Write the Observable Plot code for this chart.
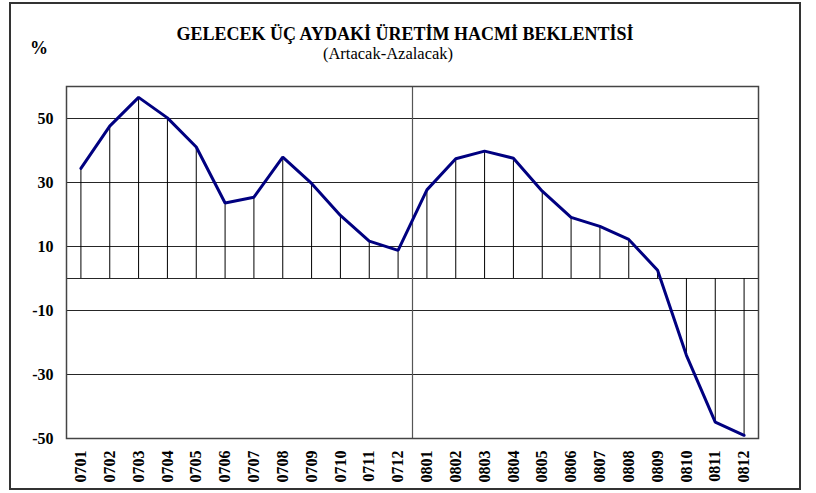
<!DOCTYPE html>
<html>
<head>
<meta charset="utf-8">
<script src="https://cdn.jsdelivr.net/npm/d3@7"></script>
<script src="https://cdn.jsdelivr.net/npm/@observablehq/plot@0.6"></script>
<style>
  html, body { margin: 0; padding: 0; background: #fff; }
  #wrap { position: relative; width: 816px; height: 493px; overflow: hidden; font-family: 'Liberation Serif', 'DejaVu Serif', serif; }
  #wrap svg { position: absolute; left: 0; top: 0; }
  .t { position: absolute; white-space: nowrap; line-height: 1; color: #000; font-family: 'Liberation Serif', 'DejaVu Serif', serif; }
  #border { position: absolute; left: 9px; top: 2px; width: 792px; height: 488px; box-sizing: border-box; border: 2px solid #333; }
</style>
</head>
<body>
<div id="wrap">
  <div id="border"></div>
  <div class="t" id="title" style="left:405px; top:25px; transform:translateX(-50%); font-size:18px; font-weight:bold;">GELECEK ÜÇ AYDAKİ ÜRETİM HACMİ BEKLENTİSİ</div>
  <div class="t" id="subtitle" style="left:388px; top:46px; transform:translateX(-50%); font-size:16.5px;">(Artacak-Azalacak)</div>
  <div class="t" id="pct" style="left:30px; top:39px; font-size:18px; font-weight:bold;">%</div>
</div>
<script>
const months = ["0701","0702","0703","0704","0705","0706","0707","0708","0709","0710","0711","0712",
                "0801","0802","0803","0804","0805","0806","0807","0808","0809","0810","0811","0812"];
const values = [34.4, 47.6, 56.6, 50.2, 41.1, 23.6, 25.4, 37.9, 29.7, 19.7, 11.7, 8.8,
                27.7, 37.4, 39.8, 37.6, 27.3, 19.1, 16.3, 12.2, 2.6, -24.0, -44.9, -49.0];
const yTicks = [50, 30, 10, -10, -30, -50];
const gridLines = [50, 30, 10, 0, -10, -30];
const yearBreakAfter = ["0712"];

const data = months.map((m, i) => ({month: m, value: values[i]}));

const W = 816, H = 493, mL = 66, mR = 58, mT = 86, mB = 55;
const step = (W - mL - mR) / months.length;
const serif = "'Liberation Serif', 'DejaVu Serif', serif";

const chart = Plot.plot({
  width: W,
  height: H,
  marginLeft: mL,
  marginRight: mR,
  marginTop: mT,
  marginBottom: mB,
  style: {fontFamily: serif, fontSize: "16px", fontWeight: "bold", background: "transparent", overflow: "visible", color: "#000"},
  x: {type: "point", domain: months, padding: 0.5, align: 0.5, round: false},
  y: {domain: [-50, 60]},
  marks: [
    Plot.ruleY(gridLines, {stroke: "#000", strokeWidth: 1, strokeOpacity: 0.85}),
    Plot.ruleX(data, {x: "month", y1: 0, y2: "value", stroke: "#000", strokeWidth: 1}),
    Plot.ruleX(yearBreakAfter, {dx: step / 2, stroke: "#555", strokeWidth: 1.2}),
    Plot.frame({stroke: "#444", strokeWidth: 1.5}),
    Plot.line(data, {x: "month", y: "value", stroke: "#000080", strokeWidth: 3, strokeLinejoin: "miter"}),
    Plot.axisY(yTicks, {tickSize: 0, tickPadding: 13, label: null, fontSize: 16, fontWeight: "bold", fontFamily: serif, tickFormat: d => String(d)}),
    Plot.axisX({tickSize: 0, tickRotate: -90, tickPadding: 12, label: null, fontSize: 16, fontWeight: "bold", fontFamily: serif})
  ]
});
document.getElementById("wrap").appendChild(chart);
</script>
</body>
</html>
